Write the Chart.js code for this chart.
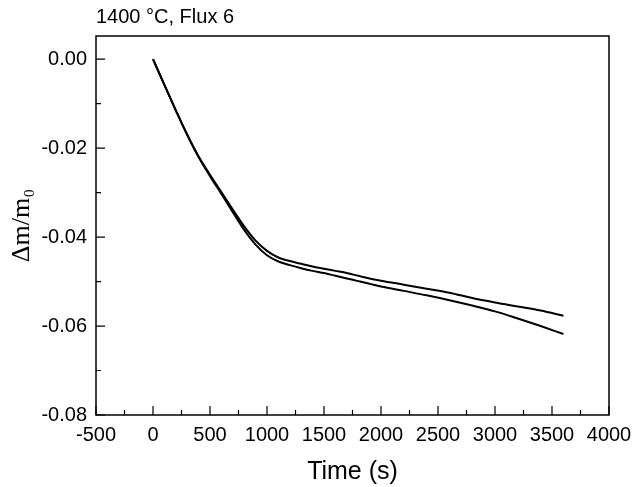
<!DOCTYPE html>
<html>
<head>
<meta charset="utf-8">
<script src="https://cdn.jsdelivr.net/npm/chart.js@4"></script>
<style>
  html, body { margin: 0; padding: 0; background: #fff; }
  #wrap { width: 632px; height: 487px; }
</style>
</head>
<body>
<div id="wrap"><canvas id="massChart"></canvas></div>
<script>
// time axis (s)
const timeS = [0, 100, 200, 300, 400, 500, 600, 700, 800, 900, 1000, 1100, 1200, 1300, 1400, 1500,
    1600, 1700, 1800, 1900, 2000, 2200, 2400, 2600, 2800, 3000, 3200, 3400, 3600];
// upper curve
const runA = [0, -0.0058, -0.0115, -0.0170, -0.0219, -0.0260, -0.0299, -0.0338, -0.0376, -0.0408, -0.0431,
    -0.0446, -0.0454, -0.0460, -0.0466, -0.0471, -0.0476, -0.0481, -0.0487, -0.0493, -0.0498,
    -0.0507, -0.0516, -0.0525, -0.0537, -0.0547, -0.0556, -0.0565, -0.0577];
// lower curve
const runB = [0, -0.0058, -0.0115, -0.0170, -0.0220, -0.0263, -0.0303, -0.0344, -0.0384, -0.0417, -0.0441,
    -0.0455, -0.0463, -0.0470, -0.0476, -0.0481, -0.0487, -0.0493, -0.0499, -0.0505, -0.0511,
    -0.0521, -0.0531, -0.0542, -0.0554, -0.0567, -0.0583, -0.0600, -0.0618];

// tick labels
const xTicks = [-500, 0, 500, 1000, 1500, 2000, 2500, 3000, 3500, 4000];
const xMinor = [-250, 250, 750, 1250, 1750, 2250, 2750, 3250, 3750];
const yTicks = [-0.08, -0.06, -0.04, -0.02, 0.00];
const yMinor = [-0.07, -0.05, -0.03, -0.01];

const toPoints = (xs, ys) => xs.map((x, i) => ({ x: x, y: ys[i] }));

// frame + inward ticks
const framePlugin = {
    id: 'frame',
    afterDraw(chart) {
        const ctx = chart.ctx;
        const a = chart.chartArea;
        const xs = chart.scales.x;
        const ys = chart.scales.y;
        ctx.save();
        ctx.strokeStyle = '#000';
        ctx.lineWidth = 1.5;
        ctx.strokeRect(a.left, a.top, a.right - a.left, a.bottom - a.top);
        ctx.lineWidth = 1.2;
        ctx.beginPath();
        xTicks.forEach(v => {
            const p = xs.getPixelForValue(v);
            ctx.moveTo(p, a.bottom); ctx.lineTo(p, a.bottom - 9);
        });
        xMinor.forEach(v => {
            const p = xs.getPixelForValue(v);
            ctx.moveTo(p, a.bottom); ctx.lineTo(p, a.bottom - 5);
        });
        yTicks.forEach(v => {
            const p = ys.getPixelForValue(v);
            ctx.moveTo(a.left, p); ctx.lineTo(a.left + 9, p);
        });
        yMinor.forEach(v => {
            const p = ys.getPixelForValue(v);
            ctx.moveTo(a.left, p); ctx.lineTo(a.left + 5, p);
        });
        ctx.stroke();
        ctx.restore();
    }
};

const ctx = document.getElementById('massChart').getContext('2d');
const chart = new Chart(ctx, {
    type: 'line',
    data: {
        datasets: [{
            label: 'A',
            data: toPoints(timeS, runA),
            borderColor: '#000',
            borderWidth: 2,
            pointRadius: 0,
            fill: false,
            cubicInterpolationMode: 'monotone'
        }, {
            label: 'B',
            data: toPoints(timeS, runB),
            borderColor: '#000',
            borderWidth: 2,
            pointRadius: 0,
            fill: false,
            cubicInterpolationMode: 'monotone'
        }]
    },
    options: {
        responsive: true,
        maintainAspectRatio: false,
        animation: false,
        layout: { padding: { left: 3, right: 23, top: 0, bottom: 0 } },
        plugins: {
            legend: { display: false },
            tooltip: { enabled: false },
            title: {
                display: true,
                text: '1400 \u00B0C, Flux 6',
                align: 'start',
                fullSize: false,
                color: '#000',
                font: { family: 'Liberation Sans', size: 20, weight: 'normal' },
                padding: { top: 5, bottom: 7 }
            }
        },
        scales: {
            x: {
                type: 'linear',
                min: -500,
                max: 4000,
                afterBuildTicks: s => { s.ticks = xTicks.map(v => ({ value: v })); },
                afterFit: s => { s.height = 72; s.paddingLeft = 0; s.paddingRight = 0; },
                grid: { display: false, drawTicks: false },
                border: { display: false },
                ticks: {
                    color: '#000',
                    padding: 8,
                    maxRotation: 0,
                    font: { family: 'Liberation Sans', size: 20 },
                    callback: v => String(v)
                },
                title: {
                    display: true,
                    text: 'Time (s)',
                    color: '#000',
                    font: { family: 'Liberation Sans', size: 25 },
                    padding: { top: 10, bottom: 0 }
                }
            },
            y: {
                type: 'linear',
                min: -0.08,
                max: 0.0052,
                afterBuildTicks: s => { s.ticks = yTicks.map(v => ({ value: v })); },
                afterFit: s => { s.width = 93; },
                grid: { display: false, drawTicks: false },
                border: { display: false },
                ticks: {
                    color: '#000',
                    padding: 9,
                    font: { family: 'Liberation Sans', size: 20 },
                    callback: v => v.toFixed(2)
                },
                title: {
                    display: true,
                    text: '\u0394m/m\u2080',
                    color: '#000',
                    font: { family: 'Liberation Serif', size: 26 },
                    padding: { top: 4, bottom: 4 }
                }
            }
        }
    },
    plugins: [framePlugin]
});
</script>
</body>
</html>
